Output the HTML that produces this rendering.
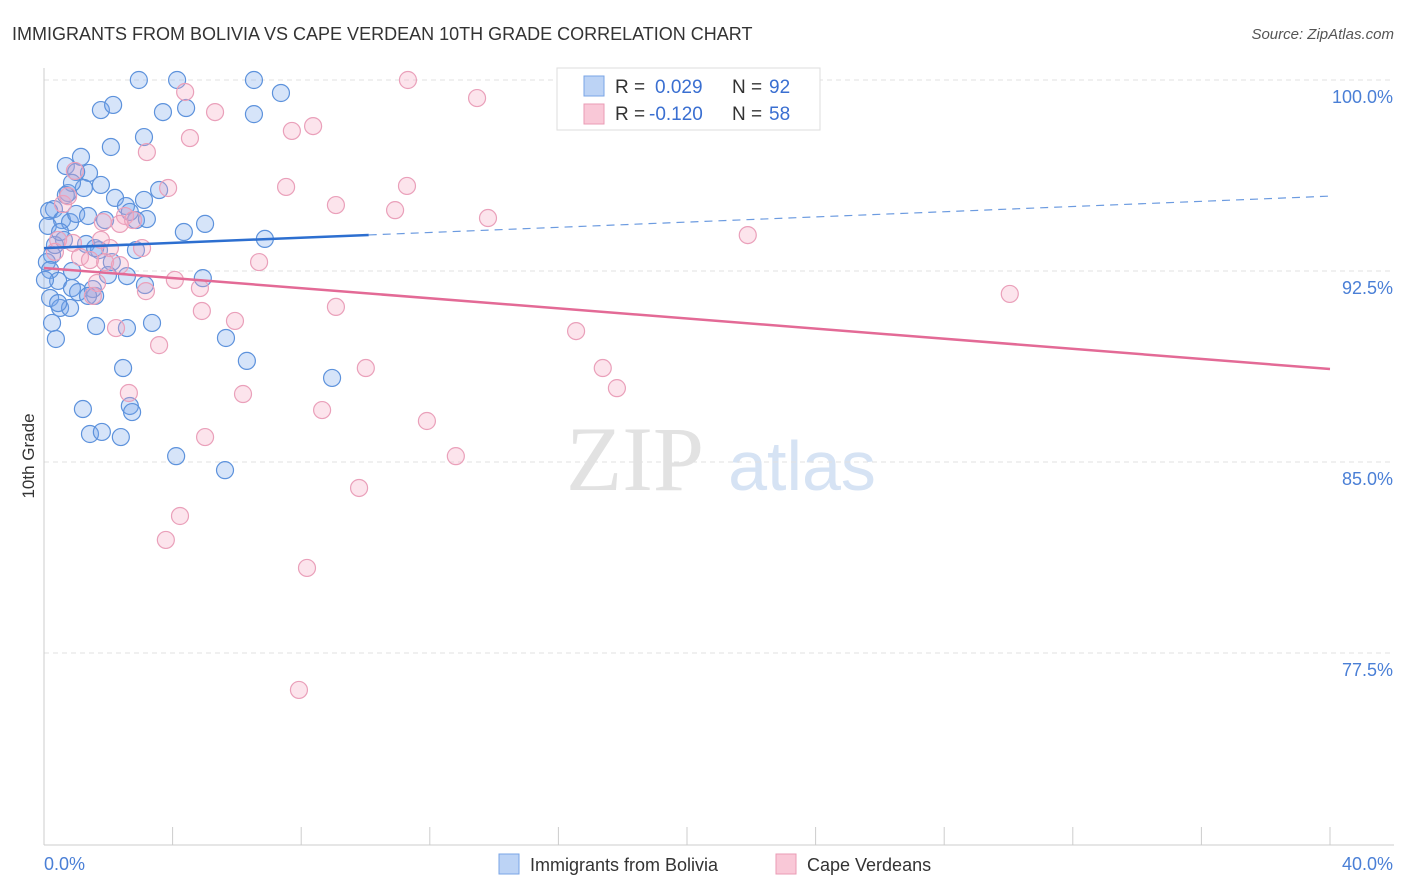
<!DOCTYPE html>
<html><head><meta charset="utf-8">
<style>
body{margin:0;background:#fff;font-family:"Liberation Sans",sans-serif;}
svg{display:block}
</style></head>
<body>
<svg id="chart" width="1406" height="892" xmlns="http://www.w3.org/2000/svg">
<text x="12" y="40" font-size="18" fill="#333" font-family="Liberation Sans, sans-serif">IMMIGRANTS FROM BOLIVIA VS CAPE VERDEAN 10TH GRADE CORRELATION CHART</text>
<text x="1394" y="39" font-size="15" fill="#555" text-anchor="end" font-style="italic">Source: ZipAtlas.com</text>
<g>
<text x="635" y="490" font-size="92" fill="#e2e2e2" text-anchor="middle" font-family="Liberation Serif, serif">ZIP</text>
<text x="802" y="490" font-size="70" fill="#d6e3f4" text-anchor="middle">atlas</text>
</g>
<g id="grid"></g>
<g id="axes"></g>
<g id="marks"></g>
<g>
<rect x="557" y="68" width="263" height="62" fill="#fff" stroke="#ddd"/>
<rect x="584" y="76" width="20" height="20" fill="#bcd3f5" stroke="#7aa5e6"/>
<text x="615" y="93" font-size="19" fill="#333">R = </text><text x="655" y="93" font-size="19" fill="#3a6fd1">0.029</text>
<text x="732" y="93" font-size="19" fill="#333">N = </text><text x="769" y="93" font-size="19" fill="#3a6fd1">92</text>
<rect x="584" y="104" width="20" height="20" fill="#f9c8d7" stroke="#ea9bb4"/>
<text x="615" y="120" font-size="19" fill="#333">R = </text><text x="649" y="120" font-size="19" fill="#3a6fd1">-0.120</text>
<text x="732" y="120" font-size="19" fill="#333">N = </text><text x="769" y="120" font-size="19" fill="#3a6fd1">58</text>
</g>
<g>
<rect x="499" y="854" width="20" height="20" fill="#bcd3f5" stroke="#7aa5e6"/>
<text x="530" y="871" font-size="18" fill="#333">Immigrants from Bolivia</text>
<rect x="776" y="854" width="20" height="20" fill="#f9c8d7" stroke="#ea9bb4"/>
<text x="807" y="871" font-size="18" fill="#333">Cape Verdeans</text>
</g>
<text transform="translate(34,456) rotate(-90)" font-size="17" fill="#333" text-anchor="middle">10th Grade</text>
</svg>
<script>
const blueX=[2.95,4.14,6.53,7.37,1.77,2.15,3.70,4.42,6.53,3.11,2.08,0.68,1.15,1.40,1.00,1.77,1.24,0.75,0.87,3.58,2.21,3.11,2.55,0.31,0.16,0.56,0.81,1.00,1.37,1.90,2.86,3.20,4.35,5.01,6.87,0.62,1.31,1.71,2.86,0.25,0.09,0.19,0.87,2.11,2.58,0.44,0.87,1.06,1.59,1.52,1.37,4.94,3.14,0.19,0.50,0.81,0.44,1.62,3.36,2.58,0.25,0.37,5.66,6.31,2.46,8.96,2.67,2.74,1.21,1.43,1.80,2.39,4.11,5.63,0.12,0.34,0.50,1.59,1.99,0.68,2.67,0.03];
const blueY=[100,100,100,99.49,98.82,99.02,98.74,98.90,98.66,97.76,97.37,96.62,96.98,96.35,96.39,95.88,95.76,95.56,95.96,95.68,95.37,95.29,95.05,94.93,94.86,94.50,94.42,94.74,94.66,94.50,94.50,94.54,94.03,94.35,93.76,93.72,93.56,93.32,93.32,93.13,92.85,92.54,92.50,92.85,92.30,92.11,91.83,91.67,91.52,91.79,91.52,92.22,91.95,91.44,91.05,91.05,91.24,90.34,90.46,90.26,90.46,89.83,89.87,88.97,88.69,88.30,87.20,86.96,87.08,86.10,86.18,85.98,85.23,84.68,94.27,93.52,94.03,93.40,92.34,95.48,94.82,92.15];
const pinkX=[11.32,13.47,4.39,5.32,8.37,7.71,4.54,3.20,3.86,0.96,7.53,11.29,9.08,10.92,13.81,21.89,0.59,0.75,2.52,2.77,2.36,1.83,0.44,0.90,1.77,2.05,3.05,0.34,1.12,1.90,2.36,6.69,4.07,4.85,1.65,1.52,3.17,9.08,4.91,5.94,2.24,16.55,3.58,10.01,17.38,17.82,2.64,6.19,8.65,11.91,5.01,12.81,9.80,4.23,3.79,8.18,7.93,30.04,1.43];
const pinkY=[100,99.29,99.53,98.74,98.19,98.00,97.72,97.17,95.76,96.43,95.80,95.84,95.09,94.89,94.58,93.91,95.13,95.44,94.66,94.50,94.35,94.42,93.72,93.60,93.72,93.40,93.40,93.25,93.05,92.85,92.73,92.85,92.15,91.83,92.03,91.52,91.71,91.09,90.93,90.54,90.26,90.14,89.59,88.69,88.69,87.90,87.71,87.67,87.04,86.61,85.98,85.23,83.98,82.88,81.94,80.84,76.05,91.60,92.93];
const blueTrend=[93.40,95.44];
const pinkTrend=[92.62,88.65];
const yTicks=[100,92.5,85,77.5];
const yTickLabels=["100.0%","92.5%","85.0%","77.5%"];
const xTicks=[0,4,8,12,16,20,24,28,32,36,40];

const NS="http://www.w3.org/2000/svg";
const L=44,R=1330,T=80,B=845;
const sx=v=>L+(v/40)*(R-L);
const sy=v=>T+(100-v)/7.5*191;
function mk(tag,attrs,parent){const e=document.createElementNS(NS,tag);for(const k in attrs)e.setAttribute(k,attrs[k]);parent.appendChild(e);return e;}
const grid=document.getElementById('grid'),axes=document.getElementById('axes'),marks=document.getElementById('marks');
yTicks.forEach((t,i)=>{
 const g=mk('line',{x1:L,x2:1394,y1:sy(t),y2:sy(t),stroke:'#e2e2e2','stroke-dasharray':'5,4'},grid);
 
 
 const tx=mk('text',{x:1393,y:sy(t)+23,'font-size':18,fill:'#4a7fd6','text-anchor':'end'},axes);
 tx.textContent=yTickLabels[i];
 
 
});
const ax=mk('line',{x1:L,x2:L,y1:68,y2:B,stroke:'#ccc'},axes);


const bx=mk('line',{x1:L,x2:1394,y1:B,y2:B,stroke:'#ccc'},axes);


xTicks.forEach(t=>{
 const l=mk('line',{x1:sx(t),x2:sx(t),y1:B,y2:B-18,stroke:'#ccc'},axes);
 
 
});
const x0=mk('text',{x:44,y:870,'font-size':18,fill:'#4a7fd6'},axes);x0.textContent='0.0%';


const x1=mk('text',{x:1393,y:870,'font-size':18,fill:'#4a7fd6','text-anchor':'end'},axes);x1.textContent='40.0%';



blueX.forEach((v,i)=>{
 const c=mk('circle',{cx:sx(v),cy:sy(blueY[i]),r:8.5,fill:'rgba(120,165,235,0.3)',stroke:'#5d92dc','stroke-width':1.2},marks);
 
 
});
pinkX.forEach((v,i)=>{
 const c=mk('circle',{cx:sx(v),cy:sy(pinkY[i]),r:8.5,fill:'rgba(245,165,192,0.3)',stroke:'#eaa0ba','stroke-width':1.2},marks);
 
 
});
const bv=x=>blueTrend[0]+(blueTrend[1]-blueTrend[0])*x/40;
const t1=mk('line',{x1:sx(0),y1:sy(bv(0)),x2:sx(10.1),y2:sy(bv(10.1)),stroke:'#2d6fd0','stroke-width':2.5},marks);


const t2=mk('line',{x1:sx(10.1),y1:sy(bv(10.1)),x2:sx(40),y2:sy(bv(40)),stroke:'#6c9be0','stroke-width':1.2,'stroke-dasharray':'8,6'},marks);


const t3=mk('line',{x1:sx(0),y1:sy(pinkTrend[0]),x2:sx(40),y2:sy(pinkTrend[1]),stroke:'#e36a96','stroke-width':2.5},marks);


</script>
</body></html>
